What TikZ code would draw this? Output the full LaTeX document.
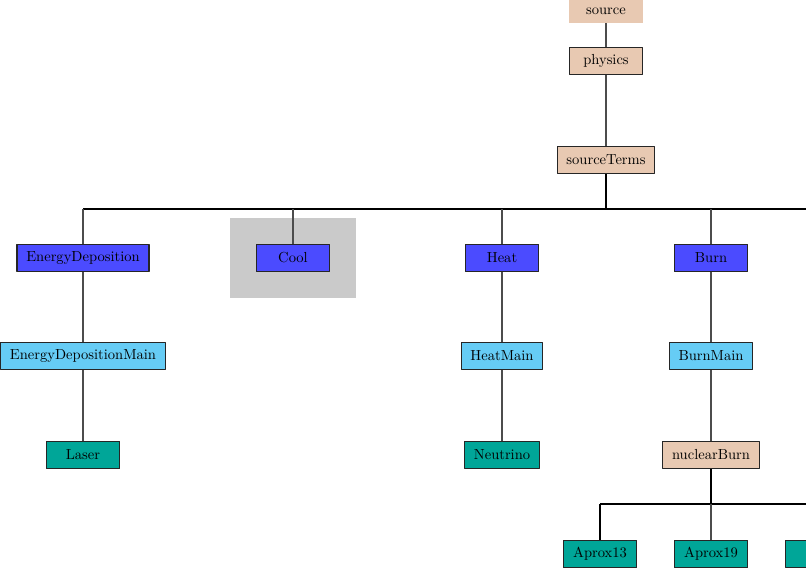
\documentclass[tikz,border=0pt]{standalone}
\usetikzlibrary{positioning}

\definecolor{tanbox}{RGB}{232,201,178}
\definecolor{bluebox}{RGB}{75,75,255}
\definecolor{skybox}{RGB}{102,204,245}
\definecolor{tealbox}{RGB}{0,166,152}
\definecolor{hilite}{RGB}{202,202,202}

\begin{document}
\begin{tikzpicture}[x=0.687pt, y=-0.687pt, line join=round,
    font=\fontsize{10}{12}\selectfont,
    unit/.style={draw=black!85, line width=0.7pt, minimum width=50.8pt,
      minimum height=19.2pt, inner xsep=6.4pt, inner ysep=0pt},
    tanunit/.style={unit, fill=tanbox},
    blueunit/.style={unit, fill=bluebox},
    skyunit/.style={unit, fill=skybox},
    tealunit/.style={unit, fill=tealbox},
    link/.style={draw=black!70, line width=0.75pt},
    buslink/.style={draw=black, line width=1pt}]
  \useasboundingbox (0,0) rectangle (806,570);
  \clip (0,0) rectangle (806,570);

  % highlighted unit
  \fill[hilite] (230,218) rectangle (356,298);

  % top of the tree
  \node[tanunit, draw=none, minimum height=15.8pt] (source) at (606,11) {source};
  \node[tanunit] (physics) at (606,61) {physics};
  \node[tanunit] (sourceTerms) at (606,160) {sourceTerms};

  % first level
  \node[blueunit] (energyDep) at (83,258) {EnergyDeposition};
  \node[blueunit] (cool) at (293,258) {Cool};
  \node[blueunit] (heat) at (502,258) {Heat};
  \node[blueunit] (burn) at (711,258) {Burn};

  % second level
  \node[skyunit] (energyDepMain) at (83,356) {EnergyDepositionMain};
  \node[skyunit] (heatMain) at (502,356) {HeatMain};
  \node[skyunit] (burnMain) at (711,356) {BurnMain};

  % third level
  \node[tealunit] (laser) at (83,455) {Laser};
  \node[tealunit] (neutrino) at (502,455) {Neutrino};
  \node[tanunit] (nuclearBurn) at (711,455) {nuclearBurn};

  % networks
  \node[tealunit] (aprox13) at (600,554) {Aprox13};
  \node[tealunit] (aprox19) at (711,554) {Aprox19};
  \node[tealunit, minimum width=68pt] (aproxNext) at (835,554) {};

  % bus coordinates
  \coordinate (busTerms) at (606,209);
  \coordinate (busLeft) at (83,209);
  \coordinate (busRight) at (806,209);
  \coordinate (busBurn) at (711,504);
  \coordinate (busAproxL) at (600,504);
  \coordinate (busAproxR) at (806,504);

  \draw[link] (source) -- (physics);
  \draw[link] (physics) -- (sourceTerms);
  \draw[buslink] (sourceTerms) -- (busTerms);
  \draw[buslink] (busLeft) -- (busRight);
  \draw[link] (busLeft) -- (energyDep);
  \draw[link] (cool |- busLeft) -- (cool);
  \draw[link] (heat |- busLeft) -- (heat);
  \draw[link] (burn |- busLeft) -- (burn);

  \draw[link] (energyDep) -- (energyDepMain);
  \draw[link] (energyDepMain) -- (laser);
  \draw[link] (heat) -- (heatMain);
  \draw[link] (heatMain) -- (neutrino);
  \draw[link] (burn) -- (burnMain);
  \draw[link] (burnMain) -- (nuclearBurn);

  \draw[buslink] (nuclearBurn) -- (busBurn);
  \draw[buslink] (busAproxL) -- (busAproxR);
  \draw[buslink] (busAproxL) -- (aprox13);
  \draw[link] (busBurn) -- (aprox19);
\end{tikzpicture}
\end{document}
